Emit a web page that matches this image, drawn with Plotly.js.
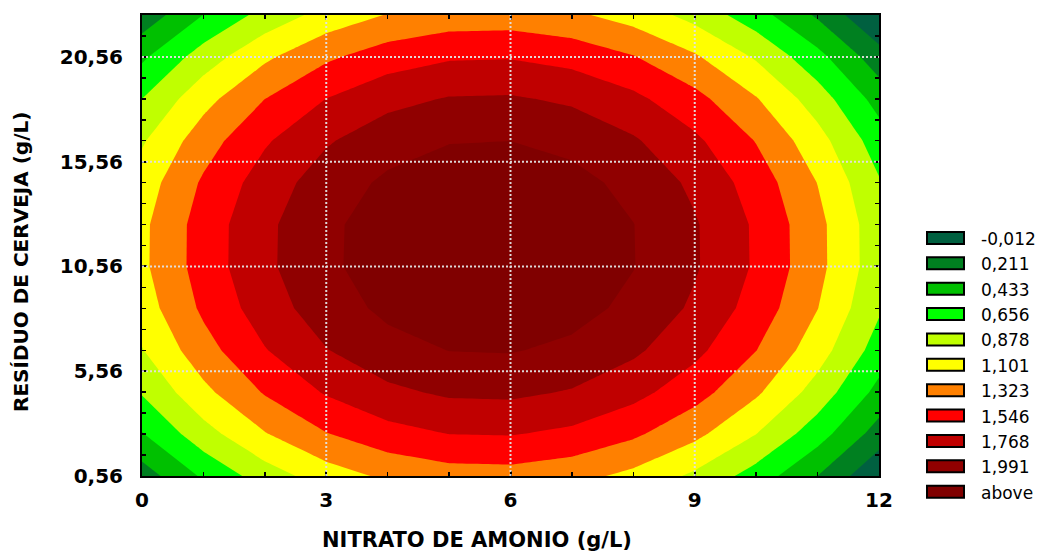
<!DOCTYPE html>
<html>
<head>
<meta charset="utf-8">
<script src="https://cdn.plot.ly/plotly-3.0.1.min.js"></script>
<style>
  html, body { margin: 0; padding: 0; background: #fff; }
  #chart { width: 1043px; height: 552px; }
</style>
</head>
<body>
<div id="chart"></div>
<script>
// Nitrato de amonio (g/L), grid columns
const nitrato = [0, 1, 2, 3, 4, 5, 6, 7, 8, 9, 10, 11, 12];

// Resíduo de cerveja (g/L), grid rows
const residuo = [0.56, 2.56, 4.56, 6.56, 8.56, 10.56, 12.56, 14.56, 16.56, 18.56, 20.56, 22.56];

// Response surface, one row per residuo value, one column per nitrato value
const resposta = [
  [0.099, 0.468, 0.765, 0.991, 1.144, 1.226, 1.236, 1.175, 1.041, 0.836, 0.559, 0.210, -0.211],
  [0.420, 0.789, 1.086, 1.312, 1.465, 1.547, 1.557, 1.496, 1.362, 1.157, 0.880, 0.531, 0.110],
  [0.676, 1.045, 1.343, 1.568, 1.722, 1.804, 1.814, 1.752, 1.618, 1.413, 1.136, 0.787, 0.366],
  [0.868, 1.237, 1.534, 1.760, 1.913, 1.995, 2.005, 1.943, 1.810, 1.604, 1.327, 0.978, 0.558],
  [0.994, 1.364, 1.661, 1.886, 2.040, 2.122, 2.132, 2.070, 1.936, 1.731, 1.454, 1.105, 0.684],
  [1.056, 1.425, 1.723, 1.948, 2.102, 2.184, 2.194, 2.132, 1.998, 1.793, 1.516, 1.167, 0.746],
  [1.053, 1.423, 1.720, 1.945, 2.099, 2.181, 2.191, 2.129, 1.995, 1.790, 1.513, 1.164, 0.743],
  [0.986, 1.355, 1.652, 1.878, 2.031, 2.113, 2.123, 2.061, 1.928, 1.722, 1.445, 1.096, 0.676],
  [0.853, 1.222, 1.519, 1.745, 1.899, 1.980, 1.990, 1.929, 1.795, 1.590, 1.313, 0.964, 0.543],
  [0.656, 1.025, 1.322, 1.548, 1.701, 1.783, 1.793, 1.731, 1.598, 1.392, 1.115, 0.766, 0.346],
  [0.394, 0.763, 1.060, 1.286, 1.439, 1.521, 1.531, 1.469, 1.336, 1.130, 0.853, 0.504, 0.084],
  [0.067, 0.436, 0.733, 0.959, 1.112, 1.194, 1.204, 1.142, 1.009, 0.803, 0.526, 0.177, -0.243]
];

// Contour levels and their legend entries (last entry = values above the top level)
const niveis = [-0.012, 0.211, 0.433, 0.656, 0.878, 1.101, 1.323, 1.546, 1.768, 1.991];
const rotulosNiveis = ['-0,012', '0,211', '0,433', '0,656', '0,878', '1,101', '1,323', '1,546', '1,768', '1,991', 'above'];
const coresNiveis = ['#006040', '#008020', '#00c000', '#00ff00', '#c0ff00', '#ffff00', '#ff8000', '#ff0000', '#c00000', '#900000', '#800000'];

// Axis ticks
const xTickVals = [0, 3, 6, 9, 12];
const xTickText = ['0', '3', '6', '9', '12'];
const yTickVals = [0.56, 5.56, 10.56, 15.56, 20.56];
const yTickText = ['0,56', '5,56', '10,56', '15,56', '20,56'];

const xRange = [0, 12];
const yRange = [0.56, 22.56];

// ---- page geometry (pixels) ----
const W = 1043, H = 552;
const M = { l: 142, r: 164, t: 15, b: 76 };
const plotW = W - M.l - M.r, plotH = H - M.t - M.b;
const px = x => (x - M.l) / plotW;       // page x -> paper x
const py = y => 1 - (y - M.t) / plotH;   // page y -> paper y

const boldFont = { family: 'DejaVu Sans, Arial, sans-serif', size: 20, color: '#000', weight: 'bold' };

// stepped colour scale: one stop per filled band
const escala = coresNiveis.map((c, i) => [i / (coresNiveis.length - 1), c]);
const passo = (niveis[niveis.length - 1] - niveis[0]) / (niveis.length - 1);

const trace = {
  type: 'contour',
  x: nitrato,
  y: residuo,
  z: resposta,
  autocontour: false,
  contours: { start: niveis[0], end: niveis[niveis.length - 1], size: passo, coloring: 'fill' },
  colorscale: escala,
  showscale: false,
  line: { width: 0, smoothing: 0 },
  hoverinfo: 'x+y+z'
};

const shapes = [];
const annotations = [];

// dotted grid drawn over the filled surface
const gridLine = { color: 'rgba(225,225,225,0.95)', width: 2, dash: '2px,2px' };
xTickVals.filter(v => v > xRange[0] && v < xRange[1]).forEach(v => {
  shapes.push({ type: 'line', xref: 'x', yref: 'paper', x0: v, x1: v, y0: 0, y1: 1, line: gridLine, layer: 'above' });
});
yTickVals.filter(v => v > yRange[0] && v < yRange[1]).forEach(v => {
  shapes.push({ type: 'line', xref: 'paper', yref: 'y', x0: 0, x1: 1, y0: v, y1: v, line: gridLine, layer: 'above' });
});

// level legend: swatch + label per band
const legTop = 238, legStep = 25.37;
rotulosNiveis.forEach((txt, k) => {
  const cy = legTop + k * legStep;
  shapes.push({
    type: 'rect', xref: 'paper', yref: 'paper',
    x0: px(927), x1: px(964), y0: py(cy + 6), y1: py(cy - 6),
    fillcolor: coresNiveis[k], line: { color: '#000', width: 2 }
  });
  annotations.push({
    xref: 'paper', yref: 'paper', x: px(979), y: py(cy + 1),
    xanchor: 'left', yanchor: 'middle', showarrow: false, text: txt,
    font: { family: 'DejaVu Sans, Arial, sans-serif', size: 17, color: '#000' }
  });
});

// axis titles
annotations.push({
  xref: 'paper', yref: 'paper', x: px(477), y: py(540), xanchor: 'center', yanchor: 'middle',
  showarrow: false, text: 'NITRATO DE AMONIO (g/L)',
  font: Object.assign({}, boldFont, { size: 21 })
});
annotations.push({
  xref: 'paper', yref: 'paper', x: px(21), y: py(262), xanchor: 'center', yanchor: 'middle',
  showarrow: false, textangle: -90, text: 'RESÍDUO DE CERVEJA (g/L)',
  font: Object.assign({}, boldFont, { size: 20 })
});

const axisCommon = {
  showline: true, linecolor: '#000', linewidth: 2, mirror: 'ticks',
  ticks: 'inside', ticklen: 5, tickwidth: 2, tickcolor: '#000',
  showgrid: false, zeroline: false, tickfont: boldFont, layer: 'above traces'
};

const layout = {
  width: W, height: H,
  margin: M,
  paper_bgcolor: '#fff', plot_bgcolor: '#fff',
  showlegend: false,
  xaxis: Object.assign({}, axisCommon, {
    range: xRange, tickmode: 'array', tickvals: xTickVals, ticktext: xTickText,
    ticklabelstandoff: 5,
    minor: { tickmode: 'linear', tick0: 0, dtick: 1, ticks: 'inside', ticklen: 4, tickwidth: 1.5, tickcolor: '#000', showgrid: false }
  }),
  yaxis: Object.assign({}, axisCommon, {
    range: yRange, tickmode: 'array', tickvals: yTickVals, ticktext: yTickText,
    ticklabelstandoff: 13,
    minor: { tickmode: 'linear', tick0: 0.56, dtick: 1, ticks: 'inside', ticklen: 4, tickwidth: 1.5, tickcolor: '#000', showgrid: false }
  }),
  shapes: shapes,
  annotations: annotations
};

Plotly.newPlot('chart', [trace], layout, { displayModeBar: false, staticPlot: true });
</script>
</body>
</html>
